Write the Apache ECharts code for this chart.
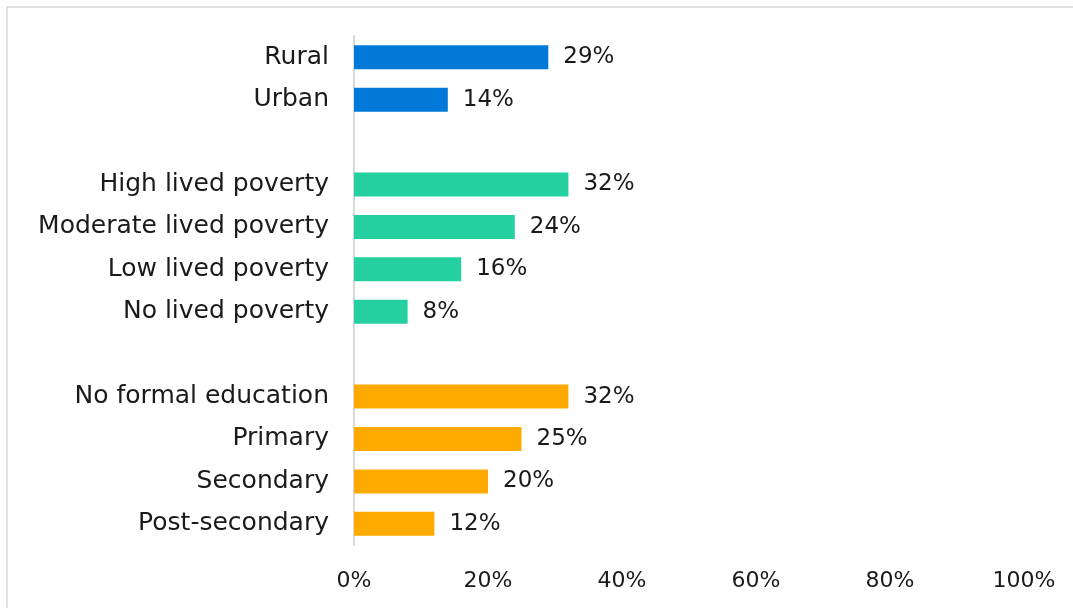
<!DOCTYPE html>
<html>
<head>
<meta charset="utf-8">
<script src="https://cdn.jsdelivr.net/npm/echarts@6/dist/echarts.min.js"></script>
<style>
  html, body { margin: 0; padding: 0; background: #fff; }
  #chart { width: 1073px; height: 608px; }
</style>
</head>
<body>
<div id="chart"></div>
<script>
// categories (two blank slots separate the groups)
const categories = ['Rural', 'Urban', '', 'High lived poverty', 'Moderate lived poverty',
  'Low lived poverty', 'No lived poverty', ' ', 'No formal education', 'Primary',
  'Secondary', 'Post-secondary'];
// percent values, null for the gaps
const values = [29, 14, null, 32, 24, 16, 8, null, 32, 25, 20, 12];
// group of each row: 0 location, 1 poverty, 2 education
const groups = [0, 0, -1, 1, 1, 1, 1, -1, 2, 2, 2, 2];
const groupColors = ['#0078d7', '#25d0a0', '#ffaa00'];
const xTicks = [0, 20, 40, 60, 80, 100];

let myChart = echarts.init(document.getElementById('chart'));
const font = '"DejaVu Sans", sans-serif';

let option = {
    animation: false,
    // 外框
    graphic: [{
        type: 'rect',
        shape: { x: 7, y: 7, width: 1070, height: 610 },
        style: { fill: 'none', stroke: '#d9d9d9', lineWidth: 1.5 }
    }],
    grid: {
        left: 354,
        right: 49,
        top: 36,
        bottom: 63
    },
    xAxis: {
        type: 'value',
        min: xTicks[0],
        max: xTicks[xTicks.length - 1],
        interval: 20,
        splitLine: { show: false },
        axisLine: { show: false },
        axisTick: { show: false },
        axisLabel: {
            formatter: '{value}%',
            color: '#1a1a1a',
            fontFamily: font,
            fontSize: 22,
            margin: 25
        }
    },
    yAxis: {
        type: 'category',
        inverse: true,
        data: categories,
        axisLine: { lineStyle: { color: '#d9d9d9', width: 2 } },
        axisTick: { show: false },
        axisLabel: {
            color: '#1a1a1a',
            fontFamily: font,
            fontSize: 25,
            margin: 25,
            interval: 0
        }
    },
    series: [{
        type: 'bar',
        barWidth: 24,
        data: values.map(function (v, i) {
            return {
                value: v,
                itemStyle: { color: groups[i] >= 0 ? groupColors[groups[i]] : 'none' }
            };
        }),
        label: {
            show: true,
            position: 'right',
            distance: 15,
            formatter: '{c}%',
            color: '#1a1a1a',
            fontFamily: font,
            fontSize: 23
        }
    }]
};
myChart.setOption(option);
</script>
</body>
</html>
